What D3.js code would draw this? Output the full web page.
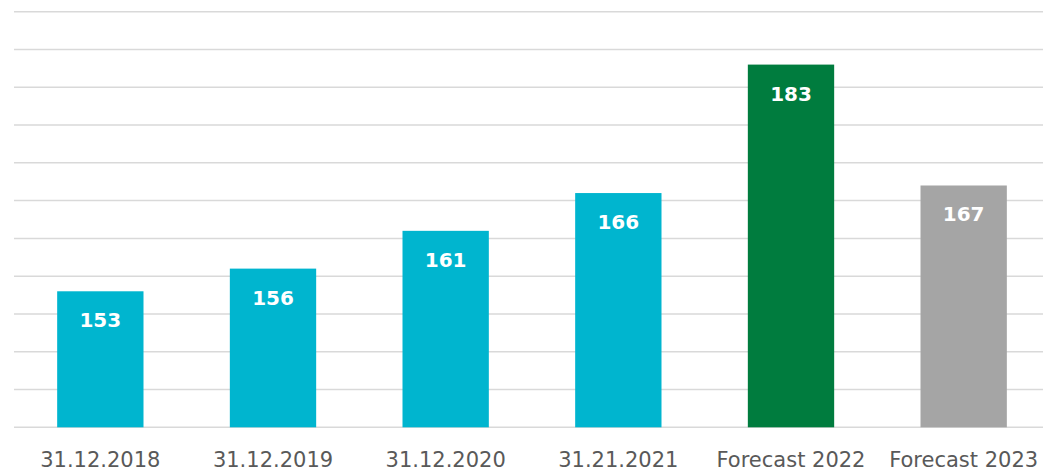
<!DOCTYPE html>
<html><head><meta charset="utf-8">
<script src="https://cdn.jsdelivr.net/npm/d3@7"></script>
<style>body{margin:0;background:#fff}svg{display:block}</style>
</head><body>
<svg id="c" width="1043" height="471"></svg>
<script>
const categories = ["31.12.2018","31.12.2019","31.12.2020","31.21.2021","Forecast 2022","Forecast 2023"];
const values = [153,156,161,166,183,167];
const barColors = ["#00b5cf","#00b5cf","#00b5cf","#00b5cf","#007c3e","#a5a5a5"];
const gridTicks = [135,140,145,150,155,160,165,170,175,180,185,190];

const svg = d3.select("#c");
const x = d3.scaleBand().domain(categories).range([14,1050]).paddingInner(0.5).paddingOuter(0.25);
const y = d3.scaleLinear().domain([135,190]).range([427.3,11.7]);

svg.append("g").selectAll("line").data(gridTicks).join("line")
  .attr("x1",14).attr("x2",1043)
  .attr("y1",d=>y(d)).attr("y2",d=>y(d))
  .attr("stroke","#d9d9d9").attr("stroke-width",1.5);

const data = categories.map((c,i)=>({c,v:values[i],col:barColors[i]}));
svg.append("g").selectAll("rect").data(data).join("rect")
  .attr("x",d=>x(d.c)).attr("width",x.bandwidth())
  .attr("y",d=>y(d.v)).attr("height",d=>y(135)-y(d.v))
  .attr("fill",d=>d.col);

svg.append("g").selectAll("text").data(data).join("text")
  .attr("x",d=>x(d.c)+x.bandwidth()/2).attr("y",d=>y(d.v)+36)
  .attr("text-anchor","middle").attr("fill","#fff")
  .attr("font-family","DejaVu Sans").attr("font-weight","bold").attr("font-size",20)
  .text(d=>d.v);

svg.append("g").selectAll("text").data(categories).join("text")
  .attr("x",d=>x(d)+x.bandwidth()/2).attr("y",467)
  .attr("text-anchor","middle").attr("fill","#595959")
  .attr("font-family","DejaVu Sans").attr("font-size",21)
  .text(d=>d);
</script>
</body></html>
